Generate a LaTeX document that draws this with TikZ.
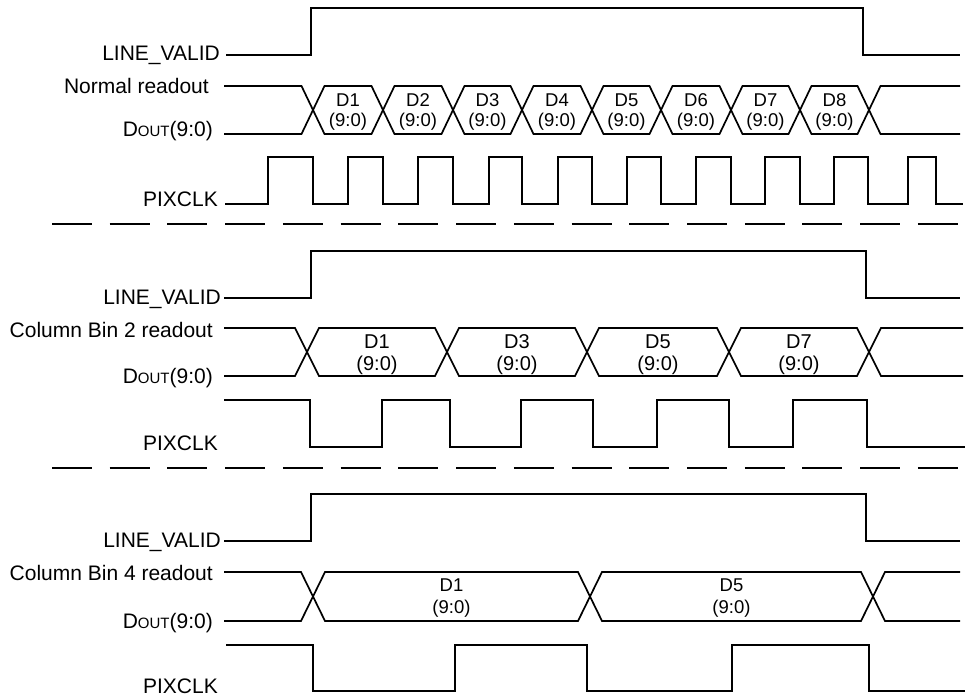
\documentclass[tikz,border=0pt]{standalone}
\usepackage{fontspec}
\setmainfont{Liberation Sans}
\usetikzlibrary{positioning}
\tikzset{
	wave/.style={line width=1.7pt, line join=miter},
	sepline/.style={line width=1.7pt, dash pattern=on 40pt off 17.73pt},
	sig/.style={anchor=base east, inner sep=0pt, font=\fontsize{21}{24}\selectfont},
	cell/.style={anchor=base, inner sep=0pt, font=\fontsize{18.5}{20}\selectfont},
}
\newcommand{\dout}{D{\fontsize{15}{16}\selectfont OUT}(9:0)}

\begin{document}
\begin{tikzpicture}[x=1pt, y=-1pt]
\useasboundingbox (0,0) rectangle (967,698);

% normal readout
\node[sig](lv1) at (220,61) {LINE\_VALID};
\node[sig](rd1) at (209,94) {Normal readout};
\node[sig](do1) at (213,137) {\dout};
\node[sig](ck1) at (218,207) {PIXCLK};

\draw[wave] (226,55) -- (311,55) -- (311,8) -- (863,8) -- (863,55) -- (960,55);

\draw[wave] (224,86) -- (301.5,86) -- (313,110);
\draw[wave] (224,134) -- (301.5,134) -- (313,110);
\foreach \a/\b/\n in {313/383/1, 383/453/2, 453/522/3, 522/592/4, 592/661/5, 661/731/6, 731/800/7, 800/869/8}{
	\draw[wave] (\a,110) -- ({\a+11.5},86) -- ({\b-11.5},86) -- (\b,110)
		-- ({\b-11.5},134) -- ({\a+11.5},134) -- cycle;
	\node[cell](n\n) at ({(\a+\b)/2},107) {D\n};
	\node[cell](nb\n) at ({(\a+\b)/2},127) {(9:0)};
}
\draw[wave] (869,110) -- (880.5,86) -- (960,86);
\draw[wave] (869,110) -- (880.5,134) -- (960,134);

\draw[wave] (225,204)
	\foreach \r/\f in {268/313, 348/383, 418/453, 489/522, 558/592, 627/661, 696/731, 765/800, 834/868, 908/936}{
		-- (\r,204) -- (\r,157) -- (\f,157) -- (\f,204)
	} -- (963,204);

\draw[sepline] (52,224) -- (958,224);

% column bin 2
\node[sig](lv2) at (221,304) {LINE\_VALID};
\node[sig](rd2) at (213,337) {Column Bin 2 readout};
\node[sig](do2) at (213,383) {\dout};
\node[sig](ck2) at (218,450) {PIXCLK};

\draw[wave] (224,298) -- (311,298) -- (311,251) -- (866,251) -- (866,298) -- (960,298);

\draw[wave] (224,328) -- (295,328) -- (307,352);
\draw[wave] (224,376) -- (295,376) -- (307,352);
\foreach \a/\b/\n in {307/447/1, 447/587/3, 587/729/5, 729/869/7}{
	\draw[wave] (\a,352) -- ({\a+12},328) -- ({\b-12},328) -- (\b,352)
		-- ({\b-12},376) -- ({\a+12},376) -- cycle;
	\node[cell, font=\fontsize{20}{22}\selectfont](c\n) at ({(\a+\b)/2},348) {D\n};
	\node[cell, font=\fontsize{20}{22}\selectfont](cb\n) at ({(\a+\b)/2},370) {(9:0)};
}
\draw[wave] (869,352) -- (881,328) -- (963,328);
\draw[wave] (869,352) -- (881,376) -- (963,376);

\draw[wave] (224,400)
	\foreach \f/\r in {310/382, 450/521, 593/657, 729/793}{
		-- (\f,400) -- (\f,447) -- (\r,447) -- (\r,400)
	} -- (867,400) -- (867,447) -- (965,447);

\draw[sepline] (52,468) -- (958,468);

% column bin 4
\node[sig](lv3) at (221,547) {LINE\_VALID};
\node[sig](rd3) at (213,580) {Column Bin 4 readout};
\node[sig](do3) at (213,628) {\dout};
\node[sig](ck3) at (218,693) {PIXCLK};

\draw[wave] (224,541) -- (311,541) -- (311,494) -- (866,494) -- (866,541) -- (960,541);

\draw[wave] (224,572) -- (301,572) -- (313,596.5);
\draw[wave] (224,621) -- (301,621) -- (313,596.5);
\foreach \a/\b/\n in {313/590/1, 590/873/5}{
	\draw[wave] (\a,596.5) -- ({\a+12},572) -- ({\b-12},572) -- (\b,596.5)
		-- ({\b-12},621) -- ({\a+12},621) -- cycle;
	\node[cell](q\n) at ({(\a+\b)/2},591) {D\n};
	\node[cell](qb\n) at ({(\a+\b)/2},613) {(9:0)};
}
\draw[wave] (873,596.5) -- (885,572) -- (960,572);
\draw[wave] (873,596.5) -- (885,621) -- (960,621);

\draw[wave] (226,645) -- (313,645) -- (313,691) -- (455,691) -- (455,645) -- (587,645)
	-- (587,691) -- (732,691) -- (732,645) -- (869,645) -- (869,691) -- (965,691);

\end{tikzpicture}
\end{document}
